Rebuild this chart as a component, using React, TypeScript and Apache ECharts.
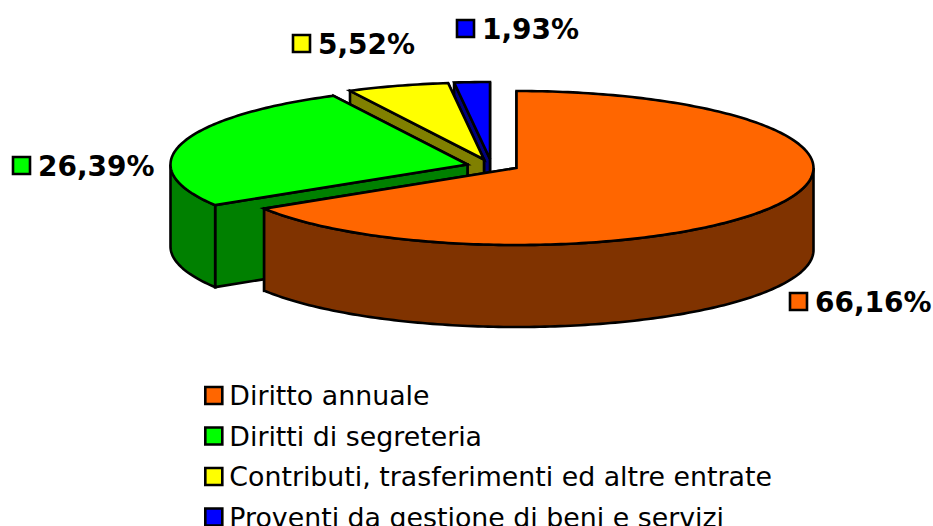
import React, { useEffect, useRef } from "react";
import * as echarts from "echarts";

const categories = [
  "Diritto annuale",
  "Diritti di segreteria",
  "Contributi, trasferimenti ed altre entrate",
  "Proventi da gestione di beni e servizi",
];
const shares = [66.16, 26.39, 5.52, 1.93];
const topColors = ["#FF6600", "#00FF00", "#FFFF00", "#0000FF"];
const wallColors = ["#803300", "#008000", "#808000", "#000080"];

// Layout of the tilted pie
const centres = [[516.5, 168], [467.5, 164.5], [484, 159.5], [490, 159]];
const labelAnchors = [[790, 293], [13, 157], [293, 35], [457, 20]];
const RX = 297;
const RY = 77;
const DEPTH = 82;
const FONT = "'DejaVu Sans', Verdana, sans-serif";
const LW = 2.6;

const startAngles = shares.map((_, i) =>
  shares.slice(0, i).reduce((a, b) => a + b, 0) * 3.6
);

function pt(c: number[], deg: number, dy = 0): number[] {
  const r = (deg * Math.PI) / 180;
  return [c[0] + RX * Math.sin(r), c[1] - RY * Math.cos(r) + dy];
}
function arc(c: number[], from: number, to: number, dy = 0): number[][] {
  const out: number[][] = [];
  const n = Math.max(2, Math.ceil(Math.abs(to - from)));
  for (let i = 0; i <= n; i++) out.push(pt(c, from + ((to - from) * i) / n, dy));
  return out;
}

function sliceRender(i: number) {
  return (_p: any, api: any) => {
    const value = api.value(0);
    const a0 = startAngles[i];
    const a1 = a0 + value * 3.6;
    const c = centres[i];
    const line = { stroke: "#000", lineWidth: LW, lineJoin: "miter", miterLimit: 4 };
    const poly = (points: number[][], fill: string) => ({
      type: "polygon",
      silent: true,
      shape: { points },
      style: { fill, ...line },
    });
    const bottom = (p: number[]) => [p[0], p[1] + DEPTH];
    const pa0 = pt(c, a0);
    const pa1 = pt(c, a1);
    const children: any[] = [];
    // cut faces
    children.push(poly([c, pa1, bottom(pa1), bottom(c)], wallColors[i]));
    children.push(poly([c, pa0, bottom(pa0), bottom(c)], wallColors[i]));
    // outer wall, front half only
    const f0 = Math.max(a0, 90);
    const f1 = Math.min(a1, 270);
    if (f1 > f0) {
      const upper = arc(c, f0, f1);
      const lower = arc(c, f1, f0, DEPTH);
      children.push(poly([...upper, ...lower], wallColors[i]));
    }
    // top face
    children.push(poly([c, ...arc(c, a0, a1)], topColors[i]));
    // percent label
    const [lx, ly] = labelAnchors[i];
    children.push({
      type: "rect",
      silent: true,
      shape: { x: lx, y: ly, width: 17, height: 17 },
      style: { fill: topColors[i], ...line },
      z2: 50,
    });
    children.push({
      type: "text",
      silent: true,
      x: lx + 25,
      y: ly + 9,
      style: {
        text: value.toFixed(2).replace(".", ",") + "%",
        fill: "#000",
        font: `bold 28px ${FONT}`,
        align: "left",
        verticalAlign: "middle",
      },
      z2: 50,
    });
    return { type: "group", children };
  };
}

export default function App() {
  const ref = useRef<HTMLDivElement>(null);
  useEffect(() => {
    document.body.style.margin = "0";
    const chart = echarts.init(ref.current!, null, { renderer: "svg" });
    const order = [3, 2, 1, 0];
    chart.setOption({
      animation: false,
      backgroundColor: "#fff",
      legend: {
        type: "plain",
        orient: "vertical",
        left: 204,
        top: 382,
        height: 400,
        itemWidth: 17,
        itemHeight: 17,
        itemGap: 13.5,
        selectedMode: false,
        padding: 0,
        icon: "rect",
        textStyle: { fontFamily: FONT, fontSize: 26.8, color: "#000", lineHeight: 26, padding: [0, 0, 0, 2] },
        data: categories.map((name, i) => ({
          name,
          icon: "rect",
          itemStyle: { color: topColors[i], borderColor: "#000", borderWidth: LW },
        })),
      },
      series: order.map((i) => ({
        type: "custom",
        name: categories[i],
        coordinateSystem: "none",
        itemStyle: { color: topColors[i] },
        renderItem: sliceRender(i),
        data: [[shares[i]]],
        silent: true,
      })),
    });
    return () => chart.dispose();
  }, []);
  return <div ref={ref} style={{ width: 933, height: 526, overflow: "hidden" }} />;
}
